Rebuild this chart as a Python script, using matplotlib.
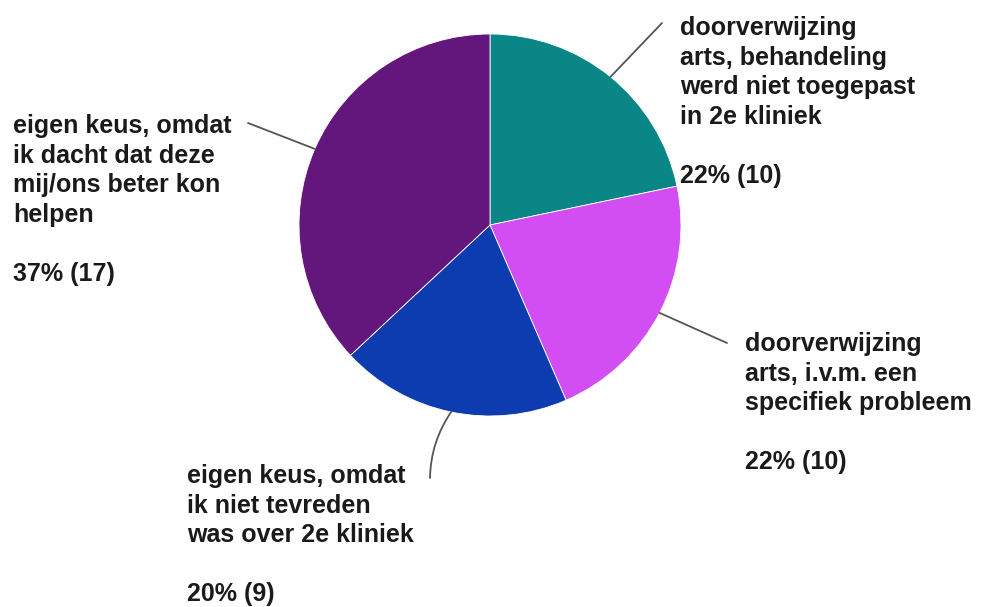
import numpy as np
import matplotlib
matplotlib.use('Agg')
import matplotlib.pyplot as plt

# data
labels = ['doorverwijzing\narts, behandeling\nwerd niet toegepast\nin 2e kliniek',
          'doorverwijzing\narts, i.v.m. een\nspecifiek probleem',
          'eigen keus, omdat\nik niet tevreden\nwas over 2e kliniek',
          'eigen keus, omdat\nik dacht dat deze\nmij/ons beter kon\nhelpen']
counts = [10, 10, 9, 17]
colors = ['#0a8686', '#d24ef2', '#0c3cb0', '#63167c']

## label text (left, top of first line) and leader end, in image pixels
text_pos = [(680, 16), (745, 332), (187, 464), (13, 114)]
leader_end = [(662, 23), (727, 343), (430, 478), (248, 123)]
leader_rad = [0, 0, -0.15, 0]

W, H = 981, 607
fig = plt.figure(figsize=(W/100, H/100), dpi=100)

cx, cy, r = 490, 225, 191
ax = fig.add_axes([(cx-r)/W, (H-cy-r)/H, 2*r/W, 2*r/H])
wedges, _ = ax.pie(counts, colors=colors, startangle=90, counterclock=False,
                   radius=1, wedgeprops=dict(edgecolor='white', linewidth=0.6))
ax.set_xlim(-1, 1)
ax.set_ylim(-1, 1)
ax.axis('off')

total = sum(counts)
for w, lab, c, tp, le, rad in zip(wedges, labels, counts, text_pos, leader_end, leader_rad):
    ang = np.deg2rad((w.theta1 + w.theta2) / 2)
    ax.annotate('', xy=(np.cos(ang), np.sin(ang)), xycoords='data',
                xytext=(le[0], H-le[1]), textcoords='figure pixels',
                arrowprops=dict(arrowstyle='-', color='#555555', lw=1.3,
                                shrinkA=0, shrinkB=0,
                                connectionstyle=f'arc3,rad={rad}'))
    pct = round(100 * c / total)
    fig.text(tp[0]/W, (H-tp[1])/H, f'{lab}\n\n{pct}% ({c})',
             ha='left', va='top', fontsize=18, fontweight='bold',
             family='Liberation Sans', color='#1a1a1a', linespacing=1.29)

fig.savefig('out.png', dpi=100)
